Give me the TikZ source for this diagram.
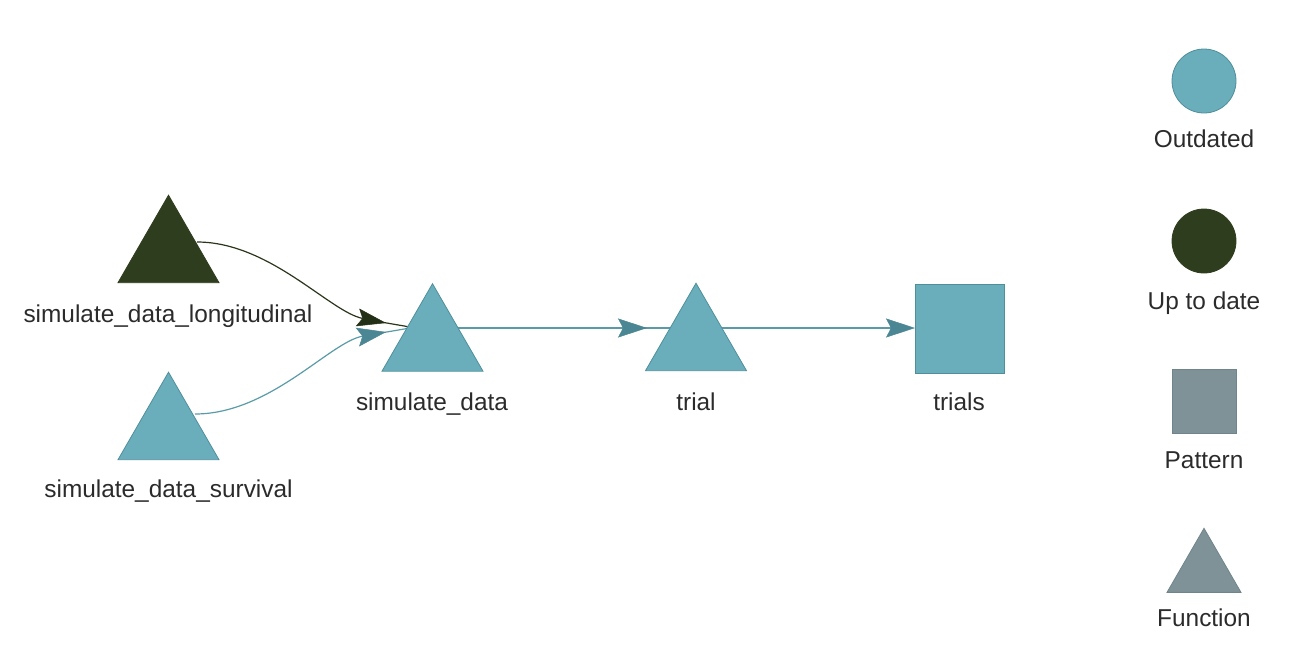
\documentclass[tikz,border=0pt]{standalone}
\usepackage{fontspec}
\setmainfont{Liberation Sans}
\usetikzlibrary{shapes.geometric,arrows.meta,backgrounds}
\definecolor{tealfill}{HTML}{6AADBB}
\definecolor{tealborder}{HTML}{4F8F9C}
\definecolor{tealedge}{HTML}{5B9BA8}
\definecolor{tealarrow}{HTML}{4A8693}
\definecolor{dgreen}{HTML}{2F3D1F}
\definecolor{dgreenedge}{HTML}{2A361B}
\definecolor{dgreenarrow}{HTML}{243016}
\definecolor{greyfill}{HTML}{7F9298}
\definecolor{greyline}{HTML}{6F848B}
\definecolor{txt}{HTML}{2B2B2B}
\begin{document}
\begin{tikzpicture}[x=1pt,y=-1pt,
  tri/.style={regular polygon, regular polygon sides=3, minimum size=116.6pt, inner sep=0pt, outer sep=0pt, line width=0.8pt},
  outdated/.style={fill=tealfill, draw=tealborder},
  uptodate/.style={fill=dgreen, draw=dgreen},
  legendgrey/.style={fill=greyfill, draw=greyline},
  lbl/.style={font=\fontsize{24.4}{28}\selectfont, text=txt, anchor=base, inner sep=0pt},
  tealline/.style={draw=tealedge, line width=1.2pt},
  darkline/.style={draw=dgreenedge, line width=1.2pt},
  tealarr/.style={tealline, -{Stealth[length=29pt, width=19pt, inset=5pt, fill=tealarrow, color=tealarrow, line width=0.5pt]}},
  darkarr/.style={darkline, -{Stealth[length=29pt, width=18pt, inset=5pt, fill=dgreenarrow, color=dgreenarrow, line width=0.5pt]}}
]
\useasboundingbox (0,0) rectangle (1291,654);

% main nodes
\node[tri, uptodate] (long) at (168.5,253.5) {};
\node[tri, outdated] (surv) at (168.5,430.5) {};
\node[tri, outdated] (sd) at (432.5,342) {};
\node[tri, outdated] (trial) at (696,341.5) {};
\node[rectangle, outdated, minimum size=89pt, inner sep=0pt, outer sep=0pt, line width=0.8pt] (trials) at (959.5,328.5) {};

\node[lbl] (llong) at (168,322) {simulate\_data\_longitudinal};
\node[lbl] (lsurv) at (168.5,497) {simulate\_data\_survival};
\node[lbl] (lsd) at (432,410) {simulate\_data};
\node[lbl] (ltrial) at (696,410) {trial};
\node[lbl] (ltrials) at (959,410) {trials};

% legend
\node[circle, outdated, minimum size=64pt, inner sep=0pt, line width=0.8pt] (legout) at (1204,81) {};
\node[lbl] (llegout) at (1204,147) {Outdated};
\node[circle, uptodate, minimum size=64pt, inner sep=0pt, line width=0.8pt] (legup) at (1204,241) {};
\node[lbl] (llegup) at (1204,309) {Up to date};
\node[rectangle, legendgrey, minimum size=64pt, inner sep=0pt, line width=0.8pt] (legpat) at (1204,401) {};
\node[lbl] (llegpat) at (1204,468) {Pattern};
\node[regular polygon, regular polygon sides=3, minimum size=85.4pt, inner sep=0pt, outer sep=0pt, legendgrey, line width=0.8pt] (legfun) at (1204,571) {};
\node[lbl] (llegfun) at (1204,626) {Function};

% connector end points
\coordinate (e1s) at (197,242);
\coordinate (e1t) at (386,323);
\coordinate (e1m) at (378,321.5);
\coordinate (e1e) at (410,327);
\coordinate (e2s) at (195,414);
\coordinate (e2t) at (386,332);
\coordinate (e2m) at (378,333.5);
\coordinate (e2e) at (410,328);
\coordinate (e3s) at (457,328);
\coordinate (e3t) at (647,328);
\coordinate (e3m) at (637,328);
\coordinate (e3e) at (672,328);
\coordinate (e4s) at (721,328);
\coordinate (e4t) at (915,328);

\begin{pgfonlayer}{background}
  \draw[darkline] (e1m) -- (e1e);
  \draw[tealline] (e2m) -- (e2e);
  \draw[tealline] (e3m) -- (e3e);
  \draw[darkarr] (e1s) .. controls (270,242) and (330,312) .. (e1t);
  \draw[tealarr] (e2s) .. controls (270,414) and (330,342) .. (e2t);
  \draw[tealarr] (e3s) -- (e3t);
  \draw[tealarr] (e4s) -- (e4t);
\end{pgfonlayer}
\end{tikzpicture}
\end{document}
